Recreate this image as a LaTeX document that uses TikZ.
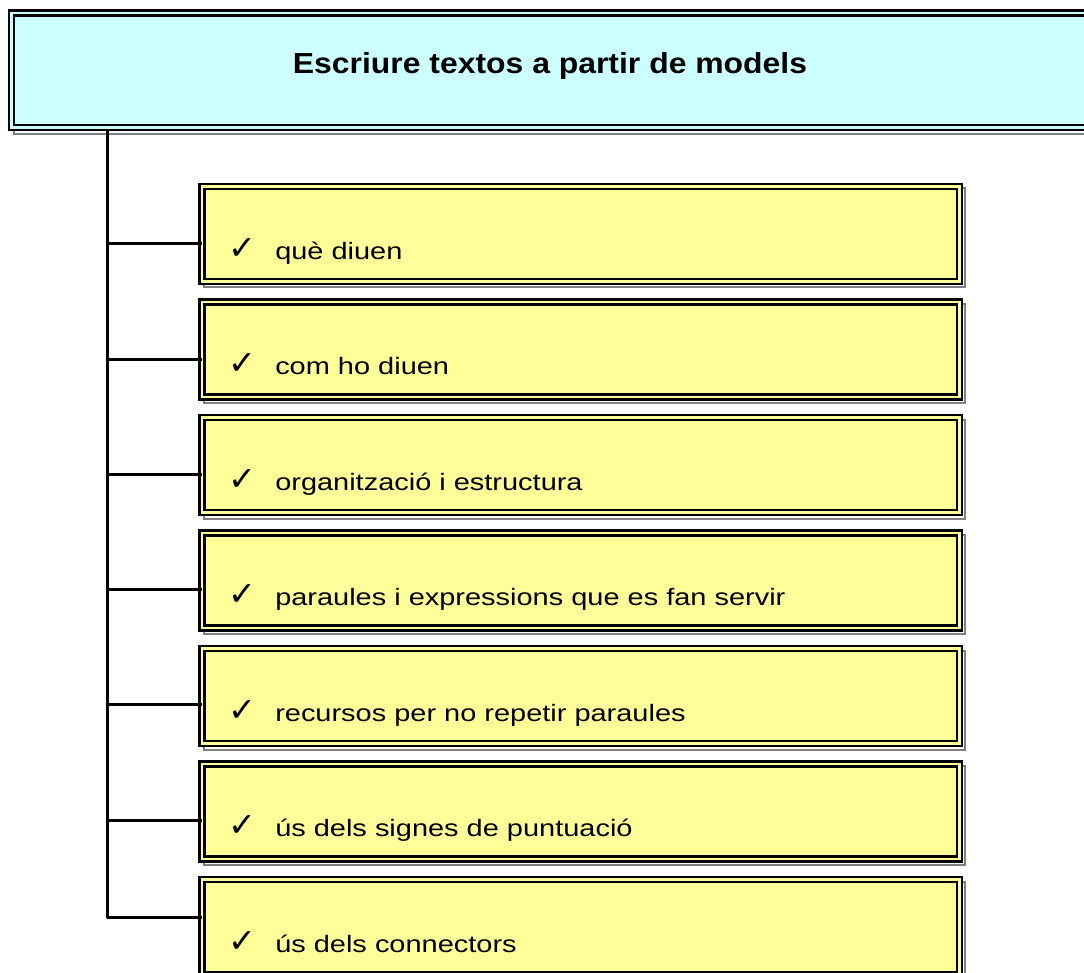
\documentclass[tikz,border=0pt]{standalone}
\usepackage{fontspec}
\setmainfont{Liberation Sans}
\newfontfamily\itemfont[FakeStretch=1.22]{Liberation Sans}
\newfontfamily\titlefont[FakeStretch=1.1]{Liberation Sans}
\newfontfamily\tickfont{DejaVu Sans}
\usetikzlibrary{positioning}
\definecolor{titlecyan}{HTML}{CCFFFF}
\definecolor{itemyellow}{HTML}{FFFF99}

\begin{document}
\begin{tikzpicture}[x=0.75pt,y=-0.75pt,
      framed/.style={rectangle,draw=black,line width=1.8pt,double distance=2pt,inner sep=0pt,outer sep=0pt,
        preaction={draw=gray,line width=1.5pt,double=white,double distance=1.5pt,transform canvas={xshift=3pt,yshift=-3pt}}},
      titlebox/.style={framed,double=titlecyan,fill=titlecyan,minimum width=808.9pt,minimum height=85.9pt},
      itembox/.style={framed,double=itemyellow,fill=itemyellow,minimum width=568.1pt,minimum height=71.25pt},
      titletext/.style={font=\titlefont\bfseries\fontsize{21.75pt}{26pt}\selectfont,inner sep=0pt},
      itemtext/.style={font=\itemfont\fontsize{17.8pt}{21pt}\selectfont,inner sep=0pt},
      branch/.style={draw=black,line width=2.25pt}]
  \useasboundingbox (0,0) rectangle (1084,973);
  \clip (0,0) rectangle (1084,973);
  \node[titlebox, anchor=north west] (title) at (11.5,13) {};
  \node[titletext, anchor=base] (head) at (550,74) {Escriure textos a partir de models};
  \foreach \i/\ty/\txt in {1/244/què diuen, 2/359/com ho diuen, 3/474/organització i estructura,
      4/589/paraules i expressions que es fan servir, 5/704/recursos per no repetir paraules,
      6/820/ús dels signes de puntuació, 7/917/ús dels connectors} {
    \node[itembox, anchor=north west] (b\i) at (202,{186.5+(\i-1)*115.5}) {};
    \node[itemtext, anchor=base west] (l\i) at ([xshift=19.5pt,yshift=-54.4pt]b\i.north west)
      {\makebox[35.25pt][l]{\tickfont\fontsize{25pt}{28pt}\selectfont ✓}\txt};
    \coordinate (t\i) at (107,\ty);
    \draw[branch] (t\i) -- (t\i -| b\i.west);
  }
  \coordinate (top) at (107,130);
  \draw[branch] (top) -- ([yshift=-1.1pt]t7);
\end{tikzpicture}
\end{document}
